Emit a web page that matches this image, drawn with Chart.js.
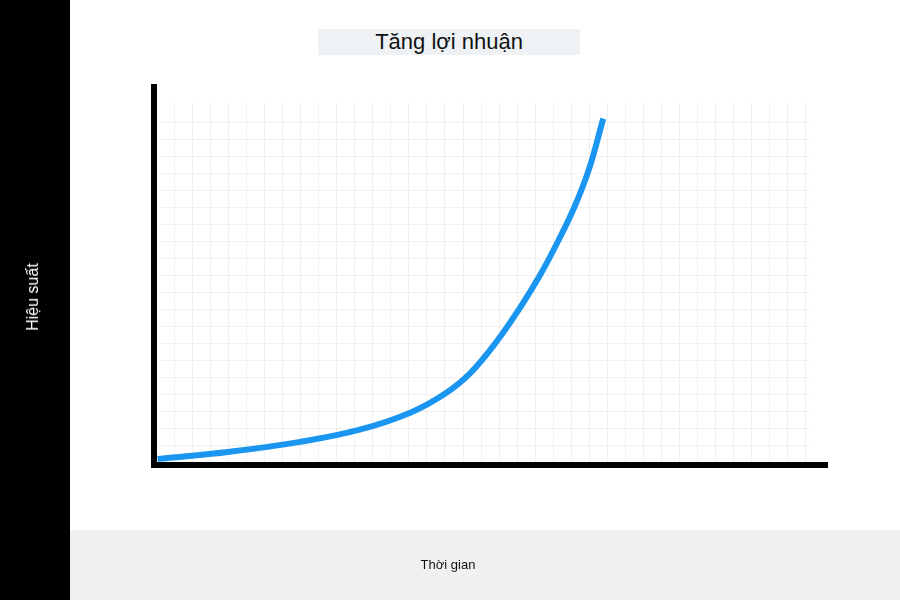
<!DOCTYPE html>
<html>
<head>
<meta charset="utf-8">
<script src="https://cdn.jsdelivr.net/npm/chart.js@4/dist/chart.umd.min.js"></script>
<style>
  html, body { margin: 0; padding: 0; background: #fff; }
  #wrap { position: relative; width: 900px; height: 600px; overflow: hidden; font-family: "Liberation Sans", Arial, sans-serif; }
  #side { position: absolute; left: 0; top: 0; width: 70px; height: 600px; background: #000; }
  #foot { position: absolute; left: 70px; top: 530px; width: 830px; height: 70px; background: #eef0f2; }
  #title { position: absolute; left: 318px; top: 29px; width: 262px; height: 26px; background: #eff2f5;
    font-size: 22px; line-height: 26px; text-align: center; color: #111; }
  #ylabel { position: absolute; left: 33px; top: 297px; transform: translate(-50%, -50%) rotate(-90deg);
    color: #fff; font-size: 16px; white-space: nowrap; }
  #xlabel { position: absolute; left: 448px; top: 564px; transform: translate(-50%, -50%);
    color: #111; font-size: 13px; white-space: nowrap; }
  canvas { position: absolute; left: 0; top: 0; }
</style>
</head>
<body>
<div id="wrap">
  <div id="side"></div>
  <div id="foot"></div>
  <canvas id="chart" width="900" height="600"></canvas>
  <div id="title">Tăng lợi nhuận</div>
  <div id="ylabel">Hiệu suất</div>
  <div id="xlabel">Thời gian</div>
</div>
<script>
// curve (time units, performance units)
const timeValues = [0.1, 4.1, 8.0, 11.3, 14.1, 16.0, 17.4, 18.9, 20.2, 21.3, 22.3, 23.2, 24.0, 24.8];
const perfValues = [0.18, 0.6, 1.18, 1.9, 2.9, 4.0, 5.2, 7.1, 9.1, 11.0, 13.0, 15.0, 17.2, 20.2];

// faint background grid
const gridTimes = Array.from({ length: 37 }, (_, i) => i);
const gridPerfs = Array.from({ length: 20 }, (_, i) => i + 1);

const points = timeValues.map((t, i) => ({ x: t, y: perfValues[i] }));

const paperGrid = {
  id: 'paperGrid',
  beforeDatasetsDraw(chart) {
    const { ctx, scales: { x, y } } = chart;
    ctx.save();
    ctx.strokeStyle = 'rgba(0, 0, 0, 0.055)';
    ctx.lineWidth = 1;
    const top = y.getPixelForValue(21.2);
    const bottom = y.getPixelForValue(0);
    const left = x.getPixelForValue(0.1);
    const right = x.getPixelForValue(36.2);
    ctx.beginPath();
    for (const t of gridTimes) {
      const px = Math.round(x.getPixelForValue(t)) + 0.5;
      ctx.moveTo(px, top);
      ctx.lineTo(px, bottom);
    }
    for (const p of gridPerfs) {
      const py = Math.round(y.getPixelForValue(p)) + 0.5;
      ctx.moveTo(left, py);
      ctx.lineTo(right, py);
    }
    ctx.stroke();
    ctx.restore();
  },
};

new Chart(document.querySelector('#chart'), {
  type: 'line',
  data: {
    datasets: [{
      data: points,
      borderColor: '#1a96f0',
      borderWidth: 6,
      borderCapStyle: 'butt',
      borderJoinStyle: 'round',
      pointRadius: 0,
      tension: 0.4,
      fill: false,
    }],
  },
  options: {
    responsive: false,
    animation: false,
    layout: { padding: { left: 154, right: 73, top: 87, bottom: 135 } },
    plugins: { legend: { display: false }, tooltip: { enabled: false }, title: { display: false } },
    scales: {
      x: {
        type: 'linear',
        min: -0.1,
        max: 37.2,
        grid: { display: false, drawTicks: false },
        ticks: { display: false },
        border: { display: true, color: '#000', width: 6 },
      },
      y: {
        min: -0.18,
        max: 22.06,
        grid: { display: false, drawTicks: false },
        ticks: { display: false },
        border: { display: true, color: '#000', width: 6 },
      },
    },
  },
  plugins: [paperGrid],
});
</script>
</body>
</html>
